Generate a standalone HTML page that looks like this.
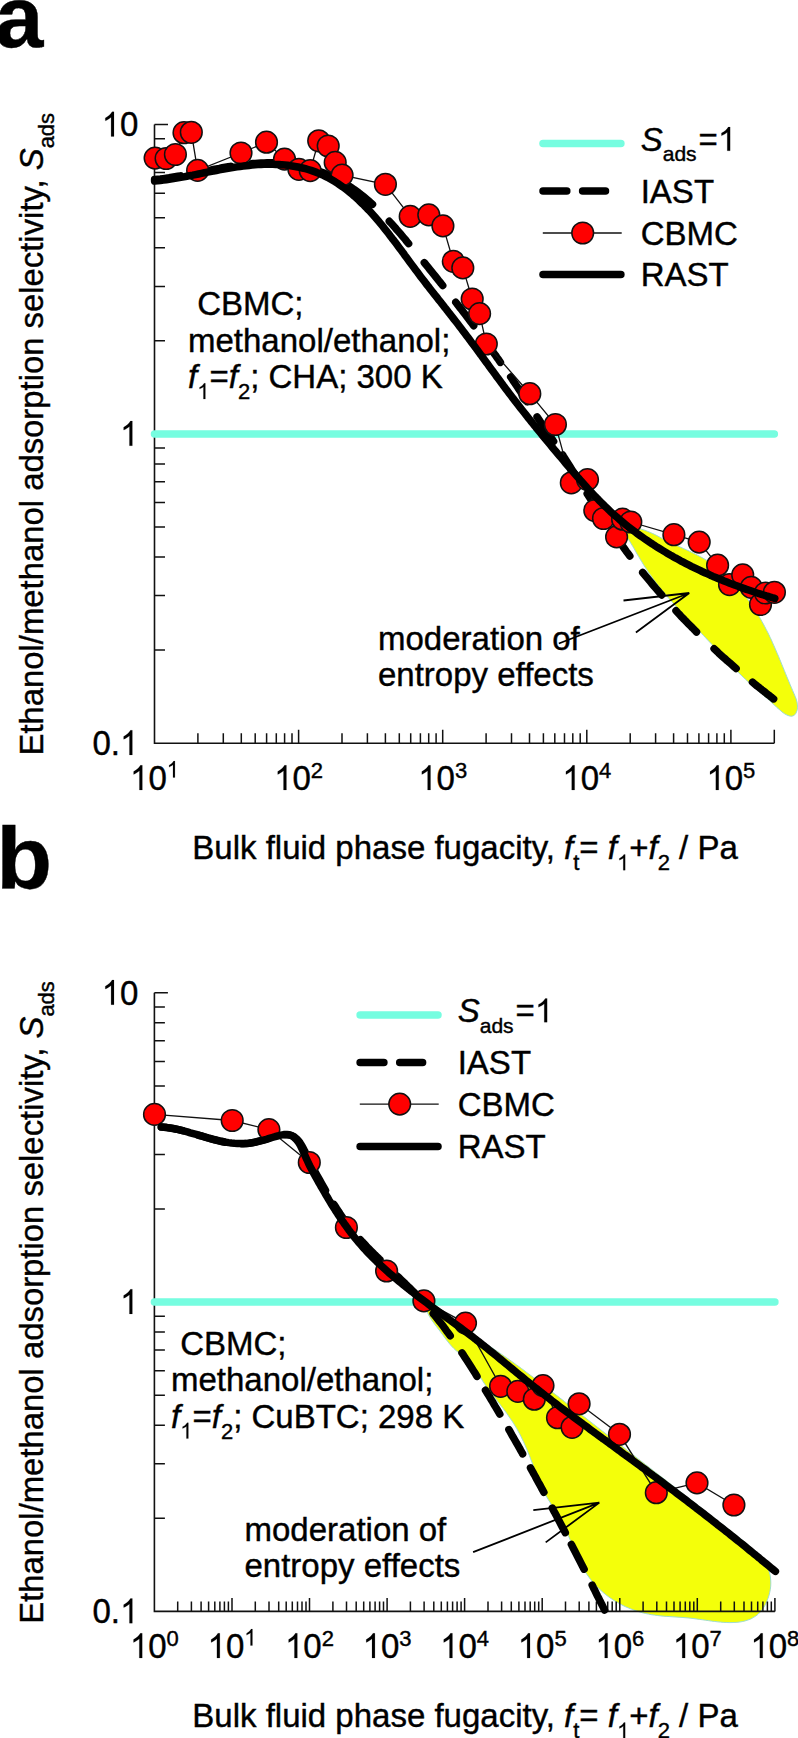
<!DOCTYPE html>
<html><head><meta charset="utf-8"><style>html,body{margin:0;padding:0;background:#fff;width:798px;height:1738px;overflow:hidden}svg{display:block}text{font-family:"Liberation Sans",sans-serif;fill:#000;stroke:#000;stroke-width:0.4px}.one{fill-opacity:0;stroke-opacity:0}</style></head><body>
<svg width="798" height="1738" viewBox="0 0 798 1738">
<rect width="798" height="1738" fill="#fff"/>
<text font-weight="bold" font-size="87" x="-5" y="47">a</text>
<text font-weight="bold" font-size="87" transform="translate(-3.8,888) scale(1.05,1)" x="0" y="0">b</text>
<text font-size="33" transform="translate(42.5,755.5) rotate(-90) scale(0.9955,1)" x="0" y="0">Ethanol/methanol adsorption selectivity, <tspan font-style="italic">S</tspan><tspan font-size="22" dy="11">ads</tspan></text>
<text font-size="33" transform="translate(42.5,1623.7) rotate(-90) scale(0.9955,1)" x="0" y="0">Ethanol/methanol adsorption selectivity, <tspan font-style="italic">S</tspan><tspan font-size="22" dy="11">ads</tspan></text>
<text font-size="33" x="192.3" y="859.2">Bulk fluid phase fugacity, <tspan font-style="italic">f</tspan><tspan font-size="22" dy="11">t</tspan><tspan dy="-11">= </tspan><tspan font-style="italic">f</tspan><tspan font-size="22" dy="11" class="one">1</tspan><tspan dy="-11">+</tspan><tspan font-style="italic">f</tspan><tspan font-size="22" dy="11">2</tspan><tspan dy="-11"> / Pa</tspan></text>
<text font-size="33" x="192.3" y="1727.4">Bulk fluid phase fugacity, <tspan font-style="italic">f</tspan><tspan font-size="22" dy="11">t</tspan><tspan dy="-11">= </tspan><tspan font-style="italic">f</tspan><tspan font-size="22" dy="11" class="one">1</tspan><tspan dy="-11">+</tspan><tspan font-style="italic">f</tspan><tspan font-size="22" dy="11">2</tspan><tspan dy="-11"> / Pa</tspan></text>
<path d="M622.1,528.3 L623.2,527.1 L625.6,526.6 L628.9,526.7 L632.7,527.2 L636.8,528.0 L640.6,529.0 L644.1,530.0 L647.2,531.2 L650.1,532.4 L652.8,533.6 L655.4,534.8 L657.8,536.1 L660.2,537.4 L662.6,538.7 L665.0,540.0 L667.5,541.2 L670.1,542.5 L672.8,543.7 L675.5,544.9 L678.2,546.2 L681.0,547.4 L683.8,548.7 L686.6,549.9 L689.4,551.2 L692.2,552.6 L695.0,553.9 L697.8,555.4 L700.5,556.8 L703.2,558.3 L705.9,559.9 L708.5,561.5 L711.0,563.2 L713.5,564.9 L716.0,566.7 L718.4,568.5 L720.7,570.4 L723.0,572.3 L725.3,574.3 L727.5,576.3 L729.7,578.3 L731.8,580.4 L733.9,582.6 L735.9,584.8 L737.9,587.0 L739.9,589.2 L741.8,591.5 L743.6,593.9 L745.5,596.2 L747.3,598.6 L749.0,601.0 L750.8,603.5 L752.5,606.0 L754.1,608.5 L755.7,611.0 L757.3,613.5 L758.9,616.1 L760.4,618.7 L761.8,621.3 L763.3,623.9 L764.7,626.6 L766.1,629.3 L767.5,631.9 L768.8,634.6 L770.1,637.3 L771.4,640.0 L772.6,642.8 L773.8,645.5 L775.0,648.2 L776.2,651.0 L777.4,653.8 L778.6,656.5 L779.7,659.3 L780.9,662.1 L782.0,664.9 L783.2,667.7 L784.3,670.5 L785.5,673.4 L786.6,676.2 L787.8,679.0 L789.0,681.9 L790.2,684.8 L791.4,687.6 L792.6,690.5 L793.9,693.4 L795.1,696.3 L796.2,699.1 L797.0,702.0 L797.4,704.9 L797.5,707.8 L797.0,710.7 L795.8,713.4 L794.1,715.4 L791.9,716.2 L789.5,716.0 L787.0,715.1 L784.5,713.7 L782.0,711.9 L779.5,709.7 L776.9,707.5 L774.5,705.1 L772.0,702.9 L769.7,700.7 L767.3,698.6 L765.0,696.6 L762.7,694.6 L760.5,692.7 L758.3,690.8 L756.1,688.9 L753.9,687.0 L751.8,685.1 L749.6,683.1 L747.5,681.2 L745.4,679.2 L743.2,677.2 L741.1,675.1 L739.0,673.1 L736.9,671.0 L734.8,668.8 L732.7,666.7 L730.6,664.5 L728.5,662.3 L726.4,660.1 L724.3,657.9 L722.3,655.7 L720.2,653.4 L718.1,651.2 L716.0,648.9 L713.9,646.7 L711.9,644.4 L709.8,642.2 L707.7,640.0 L705.6,637.7 L703.5,635.5 L701.4,633.3 L699.3,631.1 L697.3,628.9 L695.2,626.7 L693.1,624.5 L691.0,622.3 L688.9,620.1 L686.8,618.0 L684.8,615.8 L682.7,613.6 L680.7,611.4 L678.6,609.2 L676.6,607.0 L674.6,604.8 L672.6,602.6 L670.6,600.3 L668.6,598.1 L666.7,595.8 L664.7,593.5 L662.8,591.2 L660.9,588.9 L659.0,586.6 L657.2,584.2 L655.4,581.9 L653.6,579.5 L651.8,577.0 L650.1,574.6 L648.3,572.1 L646.7,569.5 L645.0,567.0 L643.4,564.4 L641.8,561.8 L640.2,559.2 L638.7,556.6 L637.1,554.0 L635.6,551.4 L634.2,548.8 L632.7,546.3 L631.2,543.8 L629.6,541.2 L627.8,538.6 L625.9,535.8 L623.9,532.9 L622.4,530.4 L622.1,528.3Z" fill="#f4ff0a" stroke="#9fdcd0" stroke-width="1"/>
<path d="M154.5,124.5 V743.2 H774.3" fill="none" stroke="#111" stroke-width="1.6"/>
<path d="M154.5,650.1h10.5M154.5,595.6h10.5M154.5,557.0h10.5M154.5,527.0h10.5M154.5,502.5h10.5M154.5,481.8h10.5M154.5,463.9h10.5M154.5,448.1h10.5M154.5,433.9h13.5M154.5,340.8h10.5M154.5,286.4h10.5M154.5,247.7h10.5M154.5,217.7h10.5M154.5,193.3h10.5M154.5,172.6h10.5M154.5,154.6h10.5M154.5,138.8h10.5M154.5,124.5h13.5M197.9,743.2v-10.0M223.3,743.2v-10.0M241.3,743.2v-10.0M255.2,743.2v-10.0M266.6,743.2v-10.0M276.3,743.2v-10.0M284.6,743.2v-10.0M292.0,743.2v-10.0M298.6,743.2v-13.5M342.0,743.2v-10.0M367.4,743.2v-10.0M385.4,743.2v-10.0M399.3,743.2v-10.0M410.7,743.2v-10.0M420.4,743.2v-10.0M428.7,743.2v-10.0M436.1,743.2v-10.0M442.7,743.2v-13.5M486.1,743.2v-10.0M511.5,743.2v-10.0M529.5,743.2v-10.0M543.4,743.2v-10.0M554.8,743.2v-10.0M564.5,743.2v-10.0M572.8,743.2v-10.0M580.2,743.2v-10.0M586.8,743.2v-13.5M630.2,743.2v-10.0M655.6,743.2v-10.0M673.6,743.2v-10.0M687.5,743.2v-10.0M698.9,743.2v-10.0M708.6,743.2v-10.0M716.9,743.2v-10.0M724.3,743.2v-10.0M730.9,743.2v-13.5M774.3,743.2v-10.0M774.3,743.2v-13.5" stroke="#111" stroke-width="1.5" fill="none"/>
<line x1="154.5" y1="433.9" x2="774.3" y2="433.9" stroke="#76fde0" stroke-width="7.5" stroke-linecap="round"/>
<path d="M154.6,179.6 L157.5,179.3 L160.4,179.0 L163.3,178.6 L166.2,178.2 L169.1,177.8 L172.0,177.3 L175.0,176.8 L177.9,176.3 L180.4,175.9M201.5,171.8 L201.5,171.8 L204.5,171.2 L207.4,170.6 L210.4,170.1 L213.4,169.5 L216.4,168.9 L219.3,168.4 L222.3,167.8 L225.3,167.3 L228.3,166.8 L230.5,166.4M251.8,163.7 L252.2,163.6 L255.2,163.4 L258.1,163.2 L261.1,163.0 L264.1,162.9 L267.1,162.8 L270.0,162.8 L273.0,162.8 L276.0,162.9 L278.9,163.0 L281.3,163.2M302.5,166.3 L305.3,167.0 L308.2,167.8 L311.1,168.6 L313.9,169.5 L316.8,170.4 L319.6,171.4 L322.4,172.5 L325.2,173.6 L327.9,174.8 L330.4,175.9M349.2,186.2 L351.5,187.7 L353.9,189.3 L356.4,191.1 L358.8,192.8 L361.1,194.7 L363.4,196.5 L365.7,198.4 L368.0,200.3 L370.2,202.3 L372.5,204.3M389.3,221.3 L391.4,223.5 L393.4,225.7 L395.4,228.0 L397.3,230.3 L399.3,232.5 L401.3,234.8 L403.2,237.1 L405.2,239.4 L407.1,241.8 L408.6,243.6M424.3,262.6 L426.1,264.9 L428.0,267.2 L429.9,269.6 L431.8,271.9 L433.6,274.2 L435.5,276.5 L437.4,278.9 L439.2,281.2 L441.1,283.5 L442.7,285.6M455.8,302.3 L457.6,304.6 L459.4,307.0 L461.3,309.3 L463.1,311.7 L464.9,314.1 L466.7,316.4 L468.5,318.8 L470.3,321.2 L472.1,323.6 L473.7,325.7M483.1,338.4 L484.6,340.4 L486.4,342.8 L488.2,345.2 L489.9,347.6 L491.7,350.1 L493.4,352.5 L495.2,354.9 L496.9,357.4 L498.7,359.8 L500.4,362.3M510.7,377.0 L512.4,379.5 L514.0,382.0 L515.7,384.5 L517.4,387.0 L519.0,389.4 L520.7,391.9 L522.3,394.4 L524.0,396.9 L525.6,399.4 L527.1,401.6M537.1,416.9 L538.8,419.4 L540.4,421.8 L542.1,424.3 L543.7,426.8 L545.4,429.3 L547.1,431.7 L548.7,434.2 L550.4,436.6 L552.1,439.1 L553.6,441.3M562.7,455.0 L563.6,456.5 L565.2,459.0 L566.8,461.5 L568.4,464.0 L570.0,466.5 L571.6,469.1 L573.1,471.6 L574.7,474.1 L576.3,476.6 L577.9,479.2 L578.4,480.0M587.2,493.8 L587.5,494.3 L589.1,496.8 L590.7,499.3 L592.3,501.9 L594.0,504.4 L595.6,506.9 L597.2,509.4 L598.9,511.9 L600.5,514.4 L602.2,516.9 L603.3,518.5M612.5,532.0 L614.0,534.2 L615.7,536.6 L617.5,539.1 L619.2,541.5 L620.9,543.9 L622.7,546.3 L624.5,548.8 L626.2,551.2 L628.0,553.6 L629.8,556.0M642.7,572.5 L644.6,574.8 L646.5,577.1 L648.4,579.4 L650.3,581.7 L652.2,584.0 L654.1,586.3 L656.1,588.6 L658.0,590.8 L660.0,593.1 L661.7,595.0M676.0,610.8 L678.0,613.0 L680.1,615.2 L682.1,617.4 L684.2,619.5 L686.3,621.7 L688.4,623.8 L690.5,625.9 L692.6,628.0 L694.7,630.2 L696.5,632.0M714.1,648.8 L716.3,650.8 L718.5,652.9 L720.7,654.9 L722.9,656.9 L725.2,658.9 L727.4,660.9 L729.7,662.8 L731.9,664.8 L734.2,666.8 L736.1,668.5M752.5,682.2 L754.8,684.1 L757.1,686.0 L759.5,687.8 L761.8,689.7 L764.2,691.5 L766.5,693.4 L768.9,695.2 L771.2,697.1 L773.6,698.9" fill="none" stroke="#000" stroke-width="7.5" stroke-linecap="round" stroke-linejoin="round"/>
<polyline points="155.1,158.1 166.1,158.5 175.4,154.5 184.0,132.7 191.3,132.3 197.6,170.4 241.0,153.0 266.5,142.2 284.5,159.1 298.9,169.3 310.2,170.6 318.7,140.8 328.2,146.0 335.2,162.4 342.1,175.1 385.4,184.3 410.2,216.4 428.8,214.9 442.9,225.9 453.3,261.3 462.8,267.9 472.2,299.0 479.6,313.6 486.3,344.0 529.8,393.7 555.4,424.5 571.3,482.8 587.5,479.6 594.8,510.5 603.5,518.5 616.6,536.9 622.6,519.2 630.8,522.0 673.9,534.7 699.2,542.1 717.6,565.2 729.5,584.6 742.7,574.9 751.3,587.4 760.5,604.5 765.4,593.0 774.4,592.3" fill="none" stroke="#111" stroke-width="1.3"/>
<circle cx="155.10" cy="158.10" r="10.85" fill="#ff0000" stroke="#111" stroke-width="1.5"/>
<circle cx="166.10" cy="158.50" r="10.85" fill="#ff0000" stroke="#111" stroke-width="1.5"/>
<circle cx="175.40" cy="154.50" r="10.85" fill="#ff0000" stroke="#111" stroke-width="1.5"/>
<circle cx="184.00" cy="132.70" r="10.85" fill="#ff0000" stroke="#111" stroke-width="1.5"/>
<circle cx="191.30" cy="132.30" r="10.85" fill="#ff0000" stroke="#111" stroke-width="1.5"/>
<circle cx="197.60" cy="170.40" r="10.85" fill="#ff0000" stroke="#111" stroke-width="1.5"/>
<circle cx="241.00" cy="153.00" r="10.85" fill="#ff0000" stroke="#111" stroke-width="1.5"/>
<circle cx="266.50" cy="142.20" r="10.85" fill="#ff0000" stroke="#111" stroke-width="1.5"/>
<circle cx="284.50" cy="159.10" r="10.85" fill="#ff0000" stroke="#111" stroke-width="1.5"/>
<circle cx="298.90" cy="169.30" r="10.85" fill="#ff0000" stroke="#111" stroke-width="1.5"/>
<circle cx="310.20" cy="170.60" r="10.85" fill="#ff0000" stroke="#111" stroke-width="1.5"/>
<circle cx="318.70" cy="140.80" r="10.85" fill="#ff0000" stroke="#111" stroke-width="1.5"/>
<circle cx="328.20" cy="146.00" r="10.85" fill="#ff0000" stroke="#111" stroke-width="1.5"/>
<circle cx="335.20" cy="162.40" r="10.85" fill="#ff0000" stroke="#111" stroke-width="1.5"/>
<circle cx="342.10" cy="175.10" r="10.85" fill="#ff0000" stroke="#111" stroke-width="1.5"/>
<circle cx="385.40" cy="184.30" r="10.85" fill="#ff0000" stroke="#111" stroke-width="1.5"/>
<circle cx="410.20" cy="216.40" r="10.85" fill="#ff0000" stroke="#111" stroke-width="1.5"/>
<circle cx="428.80" cy="214.90" r="10.85" fill="#ff0000" stroke="#111" stroke-width="1.5"/>
<circle cx="442.90" cy="225.90" r="10.85" fill="#ff0000" stroke="#111" stroke-width="1.5"/>
<circle cx="453.30" cy="261.30" r="10.85" fill="#ff0000" stroke="#111" stroke-width="1.5"/>
<circle cx="462.80" cy="267.90" r="10.85" fill="#ff0000" stroke="#111" stroke-width="1.5"/>
<circle cx="472.20" cy="299.00" r="10.85" fill="#ff0000" stroke="#111" stroke-width="1.5"/>
<circle cx="479.60" cy="313.60" r="10.85" fill="#ff0000" stroke="#111" stroke-width="1.5"/>
<circle cx="486.30" cy="344.00" r="10.85" fill="#ff0000" stroke="#111" stroke-width="1.5"/>
<circle cx="529.80" cy="393.70" r="10.85" fill="#ff0000" stroke="#111" stroke-width="1.5"/>
<circle cx="555.40" cy="424.50" r="10.85" fill="#ff0000" stroke="#111" stroke-width="1.5"/>
<circle cx="571.30" cy="482.80" r="10.85" fill="#ff0000" stroke="#111" stroke-width="1.5"/>
<circle cx="587.50" cy="479.60" r="10.85" fill="#ff0000" stroke="#111" stroke-width="1.5"/>
<circle cx="594.80" cy="510.50" r="10.85" fill="#ff0000" stroke="#111" stroke-width="1.5"/>
<circle cx="603.50" cy="518.50" r="10.85" fill="#ff0000" stroke="#111" stroke-width="1.5"/>
<circle cx="616.60" cy="536.90" r="10.85" fill="#ff0000" stroke="#111" stroke-width="1.5"/>
<circle cx="622.60" cy="519.20" r="10.85" fill="#ff0000" stroke="#111" stroke-width="1.5"/>
<circle cx="630.80" cy="522.00" r="10.85" fill="#ff0000" stroke="#111" stroke-width="1.5"/>
<circle cx="673.90" cy="534.70" r="10.85" fill="#ff0000" stroke="#111" stroke-width="1.5"/>
<circle cx="699.20" cy="542.10" r="10.85" fill="#ff0000" stroke="#111" stroke-width="1.5"/>
<circle cx="717.60" cy="565.20" r="10.85" fill="#ff0000" stroke="#111" stroke-width="1.5"/>
<circle cx="729.50" cy="584.60" r="10.85" fill="#ff0000" stroke="#111" stroke-width="1.5"/>
<circle cx="742.70" cy="574.90" r="10.85" fill="#ff0000" stroke="#111" stroke-width="1.5"/>
<circle cx="751.30" cy="587.40" r="10.85" fill="#ff0000" stroke="#111" stroke-width="1.5"/>
<circle cx="760.50" cy="604.50" r="10.85" fill="#ff0000" stroke="#111" stroke-width="1.5"/>
<circle cx="765.40" cy="593.00" r="10.85" fill="#ff0000" stroke="#111" stroke-width="1.5"/>
<circle cx="774.40" cy="592.30" r="10.85" fill="#ff0000" stroke="#111" stroke-width="1.5"/>
<path d="M154.6,181.1 L157.5,180.8 L160.4,180.5 L163.3,180.1 L166.3,179.7 L169.2,179.3 L172.1,178.9 L175.0,178.4 L178.0,177.9 L180.9,177.4 L183.8,176.9 L186.8,176.3 L189.7,175.7 L192.7,175.2 L195.6,174.6 L198.6,174.0 L201.5,173.4 L204.5,172.8 L207.4,172.2 L210.4,171.6 L213.3,171.1 L216.3,170.5 L219.3,169.9 L222.2,169.4 L225.2,168.8 L228.2,168.3 L231.1,167.8 L234.1,167.3 L237.1,166.9 L240.1,166.5 L243.0,166.1 L246.0,165.7 L249.0,165.4 L252.0,165.1 L254.9,164.8 L257.9,164.6 L260.9,164.5 L263.9,164.3 L266.8,164.3 L269.8,164.2 L272.8,164.3 L275.8,164.4 L278.8,164.5 L281.7,164.7 L284.7,165.0 L287.7,165.3 L290.6,165.7 L293.6,166.2 L296.5,166.7 L299.5,167.3 L302.4,168.0 L305.3,168.7 L308.1,169.5 L311.0,170.4 L313.8,171.4 L316.6,172.4 L319.4,173.5 L322.1,174.7 L324.8,176.0 L327.4,177.3 L330.0,178.8 L332.6,180.3 L335.2,181.8 L337.7,183.4 L340.1,185.1 L342.6,186.8 L345.0,188.6 L347.3,190.4 L349.7,192.3 L352.0,194.2 L354.2,196.1 L356.4,198.1 L358.6,200.1 L360.8,202.2 L362.9,204.2 L365.0,206.3 L367.1,208.5 L369.2,210.6 L371.2,212.8 L373.2,215.0 L375.2,217.3 L377.1,219.5 L379.1,221.8 L381.0,224.1 L382.9,226.4 L384.7,228.8 L386.6,231.1 L388.5,233.5 L390.3,235.9 L392.1,238.3 L394.0,240.7 L395.8,243.1 L397.6,245.5 L399.4,247.9 L401.2,250.3 L403.0,252.7 L404.7,255.2 L406.5,257.6 L408.3,260.0 L410.1,262.4 L411.9,264.9 L413.7,267.3 L415.5,269.7 L417.3,272.1 L419.1,274.5 L420.9,276.9 L422.7,279.2 L424.5,281.6 L426.3,284.0 L428.2,286.3 L430.0,288.7 L431.8,291.0 L433.7,293.4 L435.5,295.7 L437.4,298.0 L439.2,300.4 L441.1,302.7 L442.9,305.1 L444.7,307.4 L446.6,309.7 L448.4,312.1 L450.3,314.4 L452.1,316.8 L453.9,319.1 L455.8,321.5 L457.6,323.8 L459.4,326.2 L461.2,328.5 L463.0,330.9 L464.8,333.3 L466.6,335.7 L468.4,338.1 L470.2,340.5 L472.0,342.9 L473.8,345.3 L475.6,347.7 L477.3,350.1 L479.1,352.5 L480.9,354.9 L482.6,357.3 L484.4,359.7 L486.2,362.2 L488.0,364.6 L489.7,367.0 L491.5,369.4 L493.3,371.8 L495.0,374.2 L496.8,376.7 L498.6,379.1 L500.4,381.5 L502.2,383.9 L503.9,386.3 L505.7,388.7 L507.5,391.1 L509.3,393.5 L511.1,395.8 L512.9,398.2 L514.8,400.6 L516.6,402.9 L518.4,405.3 L520.2,407.6 L522.1,410.0 L523.9,412.3 L525.8,414.7 L527.6,417.0 L529.5,419.3 L531.3,421.6 L533.2,424.0 L535.1,426.3 L536.9,428.6 L538.8,430.9 L540.7,433.2 L542.6,435.5 L544.5,437.8 L546.4,440.1 L548.3,442.4 L550.2,444.7 L552.1,447.0 L554.0,449.3 L555.9,451.5 L557.8,453.8 L559.7,456.1 L561.7,458.4 L563.6,460.7 L565.5,463.0 L567.4,465.2 L569.4,467.5 L571.3,469.8 L573.3,472.1 L575.2,474.3 L577.2,476.6 L579.2,478.8 L581.1,481.1 L583.1,483.3 L585.1,485.5 L587.1,487.8 L589.2,490.0 L591.2,492.2 L593.2,494.3 L595.3,496.5 L597.4,498.6 L599.4,500.8 L601.6,502.9 L603.7,505.0 L605.8,507.1 L608.0,509.1 L610.1,511.2 L612.3,513.2 L614.5,515.2 L616.8,517.1 L619.0,519.1 L621.3,521.0 L623.6,522.9 L625.9,524.8 L628.2,526.7 L630.5,528.5 L632.9,530.3 L635.3,532.1 L637.7,533.9 L640.1,535.6 L642.5,537.3 L644.9,539.0 L647.4,540.7 L649.9,542.4 L652.4,544.0 L654.9,545.7 L657.4,547.3 L659.9,548.8 L662.5,550.4 L665.0,551.9 L667.6,553.5 L670.2,555.0 L672.8,556.4 L675.4,557.9 L678.0,559.3 L680.6,560.8 L683.3,562.2 L686.0,563.6 L688.6,564.9 L691.3,566.3 L694.0,567.6 L696.7,568.9 L699.4,570.2 L702.1,571.5 L704.8,572.7 L707.6,573.9 L710.3,575.2 L713.0,576.4 L715.8,577.5 L718.6,578.7 L721.3,579.8 L724.1,581.0 L726.9,582.1 L729.7,583.2 L732.5,584.2 L735.3,585.3 L738.1,586.3 L740.9,587.4 L743.7,588.4 L746.5,589.4 L749.3,590.3 L752.2,591.3 L755.0,592.3 L757.8,593.2 L760.7,594.1 L763.5,595.0 L766.3,595.9 L769.2,596.7 L772.0,597.6 L774.8,598.4" fill="none" stroke="#000" stroke-width="7.5" stroke-linecap="round" stroke-linejoin="round"/>
<text font-size="33" text-anchor="middle" transform="translate(0,790.00) scale(1,1.04) translate(0,-790.00)" x="154.5" y="790.0"><tspan class="one">1</tspan>0<tspan font-size="22" dy="-12" class="one">1</tspan></text>
<text font-size="33" text-anchor="middle" transform="translate(0,790.00) scale(1,1.04) translate(0,-790.00)" x="298.6" y="790.0"><tspan class="one">1</tspan>0<tspan font-size="22" dy="-12">2</tspan></text>
<text font-size="33" text-anchor="middle" transform="translate(0,790.00) scale(1,1.04) translate(0,-790.00)" x="442.7" y="790.0"><tspan class="one">1</tspan>0<tspan font-size="22" dy="-12">3</tspan></text>
<text font-size="33" text-anchor="middle" transform="translate(0,790.00) scale(1,1.04) translate(0,-790.00)" x="586.8" y="790.0"><tspan class="one">1</tspan>0<tspan font-size="22" dy="-12">4</tspan></text>
<text font-size="33" text-anchor="middle" transform="translate(0,790.00) scale(1,1.04) translate(0,-790.00)" x="730.9" y="790.0"><tspan class="one">1</tspan>0<tspan font-size="22" dy="-12">5</tspan></text>
<text font-size="33" text-anchor="end" transform="translate(0,136.45) scale(1,1.04) translate(0,-136.45)" x="138.4" y="136.45"><tspan class="one">1</tspan>0</text>
<text font-size="33" text-anchor="end" transform="translate(0,445.70) scale(1,1.04) translate(0,-445.70)" x="138.4" y="445.70"><tspan class="one">1</tspan></text>
<text font-size="33" text-anchor="end" transform="translate(0,754.95) scale(1,1.04) translate(0,-754.95)" x="138.4" y="754.95">0.<tspan class="one">1</tspan></text>
<line x1="543.0" y1="143.6" x2="620.9" y2="143.6" stroke="#76fde0" stroke-width="7.5" stroke-linecap="round"/>
<path d="M543.0,191.1 H566.8 M582.6,191.1 H605.5" stroke="#000" stroke-width="7.5" stroke-linecap="round"/>
<line x1="542.8" y1="233.0" x2="621.7" y2="233.0" stroke="#111" stroke-width="1.3"/>
<circle cx="582.7" cy="233.0" r="10.85" fill="#ff0000" stroke="#111" stroke-width="1.5"/>
<line x1="543.0" y1="274.6" x2="620.9" y2="274.6" stroke="#000" stroke-width="7.5" stroke-linecap="round"/>
<text font-size="33" x="640.7" y="150.8"><tspan font-style="italic">S</tspan><tspan font-size="21" dy="10.3">ads</tspan><tspan dy="-10.3" dx="2">=<tspan class="one">1</tspan></tspan></text>
<text font-size="33" x="640.7" y="202.6">IAST</text>
<text font-size="33" x="640.7" y="244.5">CBMC</text>
<text font-size="33" x="640.7" y="286.1">RAST</text>
<text font-size="33" x="188.0" y="315.1" xml:space="preserve"> CBMC;</text>
<text font-size="33" x="188.0" y="351.9">methanol/ethanol;</text>
<text font-size="33" x="188.0" y="388.1"><tspan font-style="italic">f</tspan><tspan font-size="22" dy="11" class="one">1</tspan><tspan dy="-11">=</tspan><tspan font-style="italic">f</tspan><tspan font-size="22" dy="11">2</tspan><tspan dy="-11">; CHA; 300 K</tspan></text>
<text font-size="33" x="378.0" y="650.3">moderation of</text>
<text font-size="33" x="378.0" y="686.3">entropy effects</text>
<path d="M689.3,593.0L558.8,643.5M689.3,593.0L623.5,600.5M689.3,593.0L635.9,632.5" stroke="#000" stroke-width="1.8" fill="none"/>
<path d="M426.7,1307.4 L427.8,1306.8 L429.7,1307.0 L432.1,1307.9 L435.0,1309.3 L438.1,1311.1 L441.3,1313.0 L444.5,1315.1 L447.5,1317.1 L450.3,1319.1 L453.0,1321.0 L455.6,1322.8 L458.0,1324.7 L460.4,1326.4 L462.7,1328.2 L464.9,1329.9 L467.2,1331.5 L469.6,1333.2 L471.9,1334.8 L474.4,1336.4 L476.8,1338.0 L479.3,1339.6 L481.8,1341.2 L484.4,1342.8 L486.9,1344.4 L489.4,1346.0 L491.9,1347.7 L494.4,1349.4 L496.9,1351.0 L499.4,1352.7 L501.9,1354.5 L504.3,1356.2 L506.8,1357.9 L509.3,1359.7 L511.7,1361.4 L514.2,1363.2 L516.6,1365.0 L519.1,1366.7 L521.5,1368.5 L523.9,1370.3 L526.3,1372.2 L528.8,1374.0 L531.2,1375.8 L533.6,1377.6 L536.0,1379.5 L538.4,1381.3 L540.8,1383.2 L543.2,1385.0 L545.6,1386.9 L548.0,1388.7 L550.4,1390.6 L552.7,1392.4 L555.1,1394.3 L557.5,1396.1 L559.9,1398.0 L562.3,1399.8 L564.7,1401.7 L567.0,1403.6 L569.4,1405.4 L571.8,1407.3 L574.2,1409.1 L576.6,1411.0 L578.9,1412.8 L581.3,1414.7 L583.7,1416.5 L586.1,1418.3 L588.4,1420.2 L590.8,1422.0 L593.2,1423.9 L595.6,1425.7 L597.9,1427.6 L600.3,1429.4 L602.7,1431.3 L605.0,1433.1 L607.4,1434.9 L609.8,1436.8 L612.2,1438.6 L614.5,1440.5 L616.9,1442.3 L619.3,1444.1 L621.6,1446.0 L624.0,1447.8 L626.4,1449.7 L628.7,1451.5 L631.1,1453.3 L633.5,1455.2 L635.8,1457.0 L638.2,1458.9 L640.6,1460.7 L643.0,1462.6 L645.3,1464.4 L647.7,1466.2 L650.1,1468.1 L652.4,1469.9 L654.8,1471.8 L657.2,1473.6 L659.6,1475.5 L661.9,1477.3 L664.3,1479.1 L666.7,1481.0 L669.0,1482.8 L671.4,1484.7 L673.8,1486.5 L676.2,1488.4 L678.5,1490.2 L680.9,1492.1 L683.3,1493.9 L685.7,1495.8 L688.1,1497.7 L690.4,1499.5 L692.8,1501.4 L695.2,1503.2 L697.6,1505.1 L700.0,1507.0 L702.4,1508.8 L704.8,1510.7 L707.1,1512.5 L709.5,1514.4 L711.9,1516.3 L714.3,1518.2 L716.7,1520.0 L719.1,1521.9 L721.5,1523.8 L723.9,1525.7 L726.3,1527.5 L728.7,1529.4 L731.1,1531.3 L733.5,1533.2 L735.9,1535.1 L738.3,1537.0 L740.7,1538.9 L743.1,1540.7 L745.5,1542.7 L747.9,1544.6 L750.2,1546.5 L752.5,1548.5 L754.7,1550.5 L756.8,1552.6 L758.8,1554.7 L760.7,1556.8 L762.5,1559.1 L764.2,1561.4 L765.7,1563.7 L767.0,1566.2 L768.2,1568.8 L769.1,1571.4 L769.9,1574.2 L770.4,1577.0 L770.7,1580.0 L770.8,1583.1 L770.7,1586.2 L770.3,1589.4 L769.7,1592.5 L768.9,1595.7 L767.9,1598.7 L766.7,1601.7 L765.4,1604.6 L763.8,1607.3 L762.0,1609.8 L760.1,1612.2 L758.0,1614.3 L755.7,1616.1 L753.2,1617.6 L750.7,1619.0 L747.9,1620.0 L745.1,1620.9 L742.2,1621.6 L739.2,1622.1 L736.2,1622.4 L733.1,1622.5 L729.9,1622.6 L726.8,1622.5 L723.7,1622.4 L720.5,1622.1 L717.4,1621.8 L714.4,1621.4 L711.4,1621.1 L708.4,1620.6 L705.5,1620.2 L702.6,1619.8 L699.7,1619.4 L696.8,1619.0 L693.9,1618.6 L690.9,1618.2 L688.0,1617.9 L685.0,1617.7 L682.0,1617.4 L679.0,1617.2 L676.0,1617.0 L672.9,1616.8 L669.9,1616.6 L666.8,1616.4 L663.8,1616.2 L660.7,1615.9 L657.7,1615.5 L654.7,1615.1 L651.6,1614.7 L648.6,1614.1 L645.7,1613.5 L642.7,1612.8 L639.8,1612.0 L636.9,1611.1 L634.1,1610.2 L631.3,1609.1 L628.5,1608.0 L625.7,1606.8 L623.0,1605.5 L620.4,1604.1 L617.8,1602.7 L615.2,1601.2 L612.7,1599.6 L610.2,1597.9 L607.8,1596.2 L605.5,1594.4 L603.2,1592.5 L601.0,1590.5 L598.8,1588.5 L596.7,1586.4 L594.7,1584.3 L592.7,1582.0 L590.9,1579.7 L589.1,1577.4 L587.3,1574.9 L585.7,1572.4 L584.1,1569.9 L582.6,1567.2 L581.2,1564.6 L579.8,1561.9 L578.5,1559.1 L577.2,1556.3 L576.0,1553.5 L574.7,1550.7 L573.5,1547.8 L572.3,1545.0 L571.1,1542.1 L569.9,1539.3 L568.7,1536.4 L567.5,1533.6 L566.3,1530.8 L565.0,1528.0 L563.7,1525.3 L562.3,1522.6 L560.9,1519.9 L559.4,1517.3 L557.8,1514.7 L556.3,1512.2 L554.7,1509.7 L553.1,1507.2 L551.4,1504.7 L549.9,1502.1 L548.3,1499.6 L546.8,1497.1 L545.3,1494.5 L543.9,1491.8 L542.6,1489.2 L541.4,1486.5 L540.2,1483.7 L539.0,1480.9 L537.9,1478.1 L536.8,1475.3 L535.7,1472.5 L534.7,1469.6 L533.6,1466.8 L532.6,1464.0 L531.5,1461.1 L530.4,1458.3 L529.4,1455.5 L528.2,1452.7 L527.1,1449.9 L525.9,1447.2 L524.7,1444.4 L523.5,1441.7 L522.2,1439.0 L520.9,1436.3 L519.5,1433.7 L518.1,1431.1 L516.7,1428.5 L515.1,1425.9 L513.6,1423.4 L511.9,1420.8 L510.2,1418.4 L508.5,1415.9 L506.8,1413.4 L505.0,1411.0 L503.2,1408.6 L501.3,1406.2 L499.5,1403.8 L497.6,1401.4 L495.8,1399.0 L493.9,1396.5 L492.1,1394.1 L490.2,1391.7 L488.4,1389.2 L486.7,1386.8 L484.9,1384.3 L483.2,1381.8 L481.6,1379.3 L480.0,1376.7 L478.4,1374.2 L476.8,1371.6 L475.1,1369.1 L473.4,1366.7 L471.6,1364.3 L469.6,1362.1 L467.5,1360.0 L465.3,1357.9 L462.9,1356.0 L460.6,1354.2 L458.2,1352.3 L455.9,1350.4 L453.8,1348.4 L451.8,1346.4 L449.9,1344.2 L448.1,1342.0 L446.3,1339.7 L444.5,1337.2 L442.7,1334.7 L440.7,1332.1 L438.7,1329.5 L436.6,1326.7 L434.5,1323.9 L432.5,1321.2 L430.7,1318.5 L429.1,1315.8 L427.8,1313.3 L426.8,1310.8 L426.4,1308.8 L426.7,1307.4Z" fill="#f4ff0a" stroke="#9fdcd0" stroke-width="1"/>
<path d="M154.4,992.8 V1611.4 H774.9" fill="none" stroke="#111" stroke-width="1.6"/>
<path d="M154.4,1518.3h10.5M154.4,1463.8h10.5M154.4,1425.2h10.5M154.4,1395.2h10.5M154.4,1370.7h10.5M154.4,1350.0h10.5M154.4,1332.1h10.5M154.4,1316.3h10.5M154.4,1302.1h13.5M154.4,1209.0h10.5M154.4,1154.6h10.5M154.4,1115.9h10.5M154.4,1085.9h10.5M154.4,1061.5h10.5M154.4,1040.8h10.5M154.4,1022.8h10.5M154.4,1007.0h10.5M154.4,992.8h13.5M177.7,1611.4v-10.0M191.4,1611.4v-10.0M201.1,1611.4v-10.0M208.6,1611.4v-10.0M214.8,1611.4v-10.0M219.9,1611.4v-10.0M224.4,1611.4v-10.0M228.4,1611.4v-10.0M232.0,1611.4v-13.5M255.3,1611.4v-10.0M269.0,1611.4v-10.0M278.7,1611.4v-10.0M286.2,1611.4v-10.0M292.3,1611.4v-10.0M297.5,1611.4v-10.0M302.0,1611.4v-10.0M306.0,1611.4v-10.0M309.5,1611.4v-13.5M332.9,1611.4v-10.0M346.5,1611.4v-10.0M356.2,1611.4v-10.0M363.7,1611.4v-10.0M369.9,1611.4v-10.0M375.1,1611.4v-10.0M379.6,1611.4v-10.0M383.5,1611.4v-10.0M387.1,1611.4v-13.5M410.4,1611.4v-10.0M424.1,1611.4v-10.0M433.8,1611.4v-10.0M441.3,1611.4v-10.0M447.4,1611.4v-10.0M452.6,1611.4v-10.0M457.1,1611.4v-10.0M461.1,1611.4v-10.0M464.6,1611.4v-13.5M488.0,1611.4v-10.0M501.6,1611.4v-10.0M511.3,1611.4v-10.0M518.9,1611.4v-10.0M525.0,1611.4v-10.0M530.2,1611.4v-10.0M534.7,1611.4v-10.0M538.7,1611.4v-10.0M542.2,1611.4v-13.5M565.5,1611.4v-10.0M579.2,1611.4v-10.0M588.9,1611.4v-10.0M596.4,1611.4v-10.0M602.6,1611.4v-10.0M607.7,1611.4v-10.0M612.2,1611.4v-10.0M616.2,1611.4v-10.0M619.8,1611.4v-13.5M643.1,1611.4v-10.0M656.8,1611.4v-10.0M666.5,1611.4v-10.0M674.0,1611.4v-10.0M680.1,1611.4v-10.0M685.3,1611.4v-10.0M689.8,1611.4v-10.0M693.8,1611.4v-10.0M697.3,1611.4v-13.5M720.7,1611.4v-10.0M734.3,1611.4v-10.0M744.0,1611.4v-10.0M751.5,1611.4v-10.0M757.7,1611.4v-10.0M762.9,1611.4v-10.0M767.4,1611.4v-10.0M771.3,1611.4v-10.0M774.9,1611.4v-13.5M774.9,1611.4v-13.5" stroke="#111" stroke-width="1.5" fill="none"/>
<line x1="154.4" y1="1302.1" x2="774.9" y2="1302.1" stroke="#76fde0" stroke-width="7.5" stroke-linecap="round"/>
<path d="M161.3,1127.1 L164.1,1127.3 L167.0,1127.6 L169.9,1128.0 L172.8,1128.4 L175.7,1129.0 L178.7,1129.6 L181.6,1130.3 L182.9,1130.6M198.7,1135.2 L199.1,1135.3 L202.1,1136.2 L205.0,1137.1 L208.0,1138.0 L210.9,1138.8 L213.9,1139.6 L216.8,1140.4 L219.7,1141.1 L222.7,1141.7 L225.5,1142.3M241.8,1143.8 L243.2,1143.7 L246.1,1143.6 L249.1,1143.2 L252.0,1142.8 L254.9,1142.2 L257.8,1141.4 L260.7,1140.6 L263.6,1139.8 L266.5,1138.9 L268.9,1138.2M284.9,1134.7 L286.8,1134.7 L289.5,1135.0 L292.0,1135.7 L294.3,1136.9 L296.4,1138.6 L298.3,1140.6 L300.1,1142.9 L301.7,1145.4 L303.2,1148.2 L304.7,1151.1 L304.8,1151.3M311.9,1166.1 L312.9,1167.9 L314.3,1170.5 L315.7,1173.1 L317.1,1175.6 L318.6,1178.2 L320.0,1180.7 L321.5,1183.3 L322.9,1185.8 L324.4,1188.4 L325.5,1190.3M334.0,1204.4 L335.2,1206.3 L336.8,1208.8 L338.5,1211.3 L340.1,1213.8 L341.8,1216.3 L343.5,1218.8 L345.3,1221.2 L347.1,1223.6 L348.9,1226.0 L349.8,1227.2M360.4,1239.7 L362.4,1241.9 L364.5,1244.1 L366.5,1246.3 L368.6,1248.5 L370.7,1250.6 L372.8,1252.7 L374.9,1254.8 L377.1,1256.9 L379.2,1259.0 L379.9,1259.6M397.4,1276.2 L398.9,1277.6 L401.0,1279.6 L403.2,1281.7 L405.4,1283.8 L407.5,1285.9 L409.7,1288.0 L411.8,1290.1 L413.9,1292.2 L416.0,1294.4 L417.2,1295.6M433.2,1313.7 L433.8,1314.4 L435.7,1316.7 L437.6,1319.0 L439.4,1321.4 L441.3,1323.7 L443.1,1326.1 L444.9,1328.5 L446.6,1330.9 L448.4,1333.3 L450.2,1335.7M462.0,1352.9 L463.7,1355.4 L465.3,1357.9 L467.0,1360.5 L468.6,1363.0 L470.2,1365.5 L471.8,1368.0 L473.4,1370.6 L475.0,1373.1 L476.6,1375.7 L477.0,1376.4M485.5,1390.3 L486.0,1391.0 L487.5,1393.5 L489.1,1396.1 L490.6,1398.7 L492.2,1401.2 L493.7,1403.8 L495.2,1406.4 L496.8,1409.0 L498.3,1411.5 L499.8,1414.1M508.9,1429.6 L510.4,1432.2 L511.8,1434.8 L513.3,1437.4 L514.8,1440.0 L516.3,1442.6 L517.8,1445.2 L519.3,1447.8 L520.7,1450.4 L522.2,1453.0 L522.6,1453.8M530.5,1467.9 L530.9,1468.7 L532.4,1471.3 L533.8,1473.9 L535.3,1476.5 L536.7,1479.2 L538.1,1481.8 L539.6,1484.4 L541.0,1487.0 L542.4,1489.7 L543.9,1492.3M552.3,1508.1 L553.7,1510.8 L555.2,1513.4 L556.6,1516.1 L557.9,1518.7 L559.3,1521.3 L560.7,1524.0 L562.1,1526.6 L563.5,1529.3 L564.9,1531.9 L565.3,1532.7M571.4,1544.5 L571.8,1545.2 L573.2,1547.9 L574.5,1550.5 L575.9,1553.2 L577.3,1555.9 L578.6,1558.5 L580.0,1561.2 L581.4,1563.9 L582.7,1566.5 L584.1,1569.2M592.2,1585.2 L593.5,1587.9 L594.9,1590.6 L596.2,1593.3 L597.5,1596.0 L598.9,1598.6 L600.2,1601.3 L601.6,1604.0 L602.9,1606.7 L604.2,1609.4 L604.6,1610.1" fill="none" stroke="#000" stroke-width="7.5" stroke-linecap="round" stroke-linejoin="round"/>
<polyline points="154.5,1114.4 232.2,1120.5 268.9,1129.6 309.3,1162.5 346.4,1227.5 386.6,1271.0 423.9,1300.9 465.5,1323.1 500.6,1386.3 517.8,1391.4 534.3,1399.2 543.0,1385.6 557.5,1417.7 572.1,1427.3 579.1,1403.8 619.5,1434.3 656.3,1492.7 697.0,1482.9 733.9,1505.0" fill="none" stroke="#111" stroke-width="1.3"/>
<circle cx="154.50" cy="1114.40" r="10.85" fill="#ff0000" stroke="#111" stroke-width="1.5"/>
<circle cx="232.20" cy="1120.50" r="10.85" fill="#ff0000" stroke="#111" stroke-width="1.5"/>
<circle cx="268.90" cy="1129.60" r="10.85" fill="#ff0000" stroke="#111" stroke-width="1.5"/>
<circle cx="309.30" cy="1162.50" r="10.85" fill="#ff0000" stroke="#111" stroke-width="1.5"/>
<circle cx="346.40" cy="1227.50" r="10.85" fill="#ff0000" stroke="#111" stroke-width="1.5"/>
<circle cx="386.60" cy="1271.00" r="10.85" fill="#ff0000" stroke="#111" stroke-width="1.5"/>
<circle cx="423.90" cy="1300.90" r="10.85" fill="#ff0000" stroke="#111" stroke-width="1.5"/>
<circle cx="465.50" cy="1323.10" r="10.85" fill="#ff0000" stroke="#111" stroke-width="1.5"/>
<circle cx="500.60" cy="1386.30" r="10.85" fill="#ff0000" stroke="#111" stroke-width="1.5"/>
<circle cx="517.80" cy="1391.40" r="10.85" fill="#ff0000" stroke="#111" stroke-width="1.5"/>
<circle cx="534.30" cy="1399.20" r="10.85" fill="#ff0000" stroke="#111" stroke-width="1.5"/>
<circle cx="543.00" cy="1385.60" r="10.85" fill="#ff0000" stroke="#111" stroke-width="1.5"/>
<circle cx="557.50" cy="1417.70" r="10.85" fill="#ff0000" stroke="#111" stroke-width="1.5"/>
<circle cx="572.10" cy="1427.30" r="10.85" fill="#ff0000" stroke="#111" stroke-width="1.5"/>
<circle cx="579.10" cy="1403.80" r="10.85" fill="#ff0000" stroke="#111" stroke-width="1.5"/>
<circle cx="619.50" cy="1434.30" r="10.85" fill="#ff0000" stroke="#111" stroke-width="1.5"/>
<circle cx="656.30" cy="1492.70" r="10.85" fill="#ff0000" stroke="#111" stroke-width="1.5"/>
<circle cx="697.00" cy="1482.90" r="10.85" fill="#ff0000" stroke="#111" stroke-width="1.5"/>
<circle cx="733.90" cy="1505.00" r="10.85" fill="#ff0000" stroke="#111" stroke-width="1.5"/>
<path d="M161.3,1127.1 L164.2,1127.3 L167.0,1127.6 L169.9,1128.0 L172.8,1128.5 L175.7,1129.1 L178.6,1129.7 L181.5,1130.4 L184.5,1131.2 L187.4,1131.9 L190.3,1132.8 L193.2,1133.6 L196.2,1134.4 L199.1,1135.3 L202.1,1136.2 L205.0,1137.0 L208.0,1137.9 L210.9,1138.7 L213.8,1139.5 L216.8,1140.2 L219.7,1140.9 L222.7,1141.5 L225.6,1142.1 L228.6,1142.6 L231.5,1143.0 L234.4,1143.3 L237.4,1143.5 L240.3,1143.6 L243.2,1143.6 L246.1,1143.5 L249.0,1143.2 L252.0,1142.8 L254.9,1142.3 L257.7,1141.6 L260.6,1140.9 L263.5,1140.1 L266.4,1139.3 L269.3,1138.4 L272.2,1137.5 L275.1,1136.7 L278.0,1135.8 L280.9,1135.1 L283.8,1134.6 L286.6,1134.4 L289.2,1134.8 L291.7,1135.7 L293.9,1137.2 L296.0,1139.1 L297.8,1141.3 L299.4,1143.8 L300.9,1146.5 L302.3,1149.4 L303.6,1152.3 L304.9,1155.3 L306.2,1158.2 L307.5,1161.0 L308.8,1163.8 L310.1,1166.5 L311.5,1169.1 L312.9,1171.8 L314.3,1174.3 L315.7,1176.9 L317.1,1179.4 L318.5,1182.0 L320.0,1184.5 L321.4,1187.1 L322.9,1189.6 L324.4,1192.2 L325.9,1194.8 L327.4,1197.3 L328.9,1199.9 L330.5,1202.5 L332.0,1205.0 L333.6,1207.6 L335.2,1210.1 L336.9,1212.6 L338.5,1215.2 L340.2,1217.7 L341.8,1220.2 L343.6,1222.6 L345.3,1225.1 L347.1,1227.5 L348.8,1229.9 L350.6,1232.3 L352.5,1234.7 L354.3,1237.1 L356.2,1239.4 L358.1,1241.7 L360.1,1243.9 L362.0,1246.2 L364.0,1248.4 L366.0,1250.6 L368.1,1252.8 L370.1,1254.9 L372.2,1257.0 L374.3,1259.1 L376.4,1261.2 L378.6,1263.3 L380.7,1265.3 L382.9,1267.3 L385.1,1269.3 L387.3,1271.3 L389.6,1273.3 L391.8,1275.2 L394.1,1277.2 L396.4,1279.1 L398.7,1281.0 L401.0,1282.9 L403.3,1284.8 L405.6,1286.7 L408.0,1288.5 L410.3,1290.4 L412.7,1292.2 L415.0,1294.1 L417.4,1295.9 L419.8,1297.7 L422.2,1299.5 L424.6,1301.3 L427.0,1303.1 L429.4,1304.9 L431.8,1306.7 L434.2,1308.5 L436.7,1310.3 L439.1,1312.0 L441.5,1313.8 L443.9,1315.6 L446.4,1317.4 L448.8,1319.2 L451.2,1320.9 L453.6,1322.7 L456.0,1324.5 L458.4,1326.3 L460.9,1328.1 L463.3,1329.9 L465.7,1331.7 L468.1,1333.5 L470.4,1335.3 L472.8,1337.1 L475.2,1338.9 L477.5,1340.8 L479.9,1342.6 L482.2,1344.5 L484.6,1346.3 L486.9,1348.2 L489.2,1350.1 L491.6,1352.0 L493.9,1353.8 L496.2,1355.7 L498.5,1357.6 L500.8,1359.5 L503.1,1361.4 L505.4,1363.3 L507.7,1365.2 L510.0,1367.1 L512.3,1369.0 L514.6,1370.9 L516.9,1372.8 L519.2,1374.7 L521.5,1376.5 L523.8,1378.4 L526.1,1380.3 L528.4,1382.2 L530.8,1384.1 L533.1,1385.9 L535.4,1387.8 L537.8,1389.6 L540.1,1391.5 L542.5,1393.3 L544.8,1395.2 L547.2,1397.0 L549.5,1398.8 L551.9,1400.7 L554.3,1402.5 L556.7,1404.3 L559.0,1406.1 L561.4,1407.9 L563.8,1409.7 L566.2,1411.5 L568.6,1413.3 L571.0,1415.1 L573.4,1416.9 L575.8,1418.7 L578.2,1420.5 L580.6,1422.3 L583.0,1424.1 L585.4,1425.8 L587.8,1427.6 L590.2,1429.4 L592.7,1431.2 L595.1,1433.0 L597.5,1434.7 L599.9,1436.5 L602.3,1438.3 L604.8,1440.0 L607.2,1441.8 L609.6,1443.6 L612.0,1445.3 L614.4,1447.1 L616.9,1448.9 L619.3,1450.6 L621.7,1452.4 L624.1,1454.2 L626.5,1455.9 L629.0,1457.7 L631.4,1459.5 L633.8,1461.2 L636.2,1463.0 L638.6,1464.8 L641.0,1466.6 L643.5,1468.3 L645.9,1470.1 L648.3,1471.9 L650.7,1473.7 L653.1,1475.5 L655.5,1477.2 L657.9,1479.0 L660.3,1480.8 L662.7,1482.6 L665.1,1484.4 L667.5,1486.2 L669.8,1488.0 L672.2,1489.8 L674.6,1491.6 L677.0,1493.4 L679.4,1495.2 L681.8,1497.0 L684.1,1498.8 L686.5,1500.6 L688.9,1502.4 L691.3,1504.2 L693.6,1506.0 L696.0,1507.9 L698.4,1509.7 L700.7,1511.5 L703.1,1513.3 L705.5,1515.2 L707.8,1517.0 L710.2,1518.8 L712.5,1520.7 L714.9,1522.5 L717.2,1524.4 L719.6,1526.2 L721.9,1528.0 L724.3,1529.9 L726.6,1531.8 L729.0,1533.6 L731.3,1535.5 L733.6,1537.3 L736.0,1539.2 L738.3,1541.1 L740.6,1542.9 L743.0,1544.8 L745.3,1546.7 L747.6,1548.6 L749.9,1550.5 L752.3,1552.4 L754.6,1554.3 L756.9,1556.1 L759.2,1558.0 L761.5,1560.0 L763.8,1561.9 L766.2,1563.8 L768.5,1565.7 L770.8,1567.6 L773.1,1569.5 L775.4,1571.4" fill="none" stroke="#000" stroke-width="7.5" stroke-linecap="round" stroke-linejoin="round"/>
<text font-size="33" text-anchor="middle" transform="translate(0,1658.00) scale(1,1.04) translate(0,-1658.00)" x="154.4" y="1658.0"><tspan class="one">1</tspan>0<tspan font-size="22" dy="-12">0</tspan></text>
<text font-size="33" text-anchor="middle" transform="translate(0,1658.00) scale(1,1.04) translate(0,-1658.00)" x="232.0" y="1658.0"><tspan class="one">1</tspan>0<tspan font-size="22" dy="-12" class="one">1</tspan></text>
<text font-size="33" text-anchor="middle" transform="translate(0,1658.00) scale(1,1.04) translate(0,-1658.00)" x="309.5" y="1658.0"><tspan class="one">1</tspan>0<tspan font-size="22" dy="-12">2</tspan></text>
<text font-size="33" text-anchor="middle" transform="translate(0,1658.00) scale(1,1.04) translate(0,-1658.00)" x="387.1" y="1658.0"><tspan class="one">1</tspan>0<tspan font-size="22" dy="-12">3</tspan></text>
<text font-size="33" text-anchor="middle" transform="translate(0,1658.00) scale(1,1.04) translate(0,-1658.00)" x="464.6" y="1658.0"><tspan class="one">1</tspan>0<tspan font-size="22" dy="-12">4</tspan></text>
<text font-size="33" text-anchor="middle" transform="translate(0,1658.00) scale(1,1.04) translate(0,-1658.00)" x="542.2" y="1658.0"><tspan class="one">1</tspan>0<tspan font-size="22" dy="-12">5</tspan></text>
<text font-size="33" text-anchor="middle" transform="translate(0,1658.00) scale(1,1.04) translate(0,-1658.00)" x="619.8" y="1658.0"><tspan class="one">1</tspan>0<tspan font-size="22" dy="-12">6</tspan></text>
<text font-size="33" text-anchor="middle" transform="translate(0,1658.00) scale(1,1.04) translate(0,-1658.00)" x="697.3" y="1658.0"><tspan class="one">1</tspan>0<tspan font-size="22" dy="-12">7</tspan></text>
<text font-size="33" text-anchor="middle" transform="translate(0,1658.00) scale(1,1.04) translate(0,-1658.00)" x="774.9" y="1658.0"><tspan class="one">1</tspan>0<tspan font-size="22" dy="-12">8</tspan></text>
<text font-size="33" text-anchor="end" transform="translate(0,1004.65) scale(1,1.04) translate(0,-1004.65)" x="138.4" y="1004.65"><tspan class="one">1</tspan>0</text>
<text font-size="33" text-anchor="end" transform="translate(0,1313.90) scale(1,1.04) translate(0,-1313.90)" x="138.4" y="1313.90"><tspan class="one">1</tspan></text>
<text font-size="33" text-anchor="end" transform="translate(0,1623.15) scale(1,1.04) translate(0,-1623.15)" x="138.4" y="1623.15">0.<tspan class="one">1</tspan></text>
<line x1="360.1" y1="1015.0" x2="438.0" y2="1015.0" stroke="#76fde0" stroke-width="7.5" stroke-linecap="round"/>
<path d="M360.1,1062.4 H383.9 M399.7,1062.4 H422.6" stroke="#000" stroke-width="7.5" stroke-linecap="round"/>
<line x1="359.8" y1="1104.1" x2="438.7" y2="1104.1" stroke="#111" stroke-width="1.3"/>
<circle cx="399.7" cy="1104.1" r="10.85" fill="#ff0000" stroke="#111" stroke-width="1.5"/>
<line x1="360.1" y1="1146.5" x2="438.0" y2="1146.5" stroke="#000" stroke-width="7.5" stroke-linecap="round"/>
<text font-size="33" x="457.7" y="1022.2"><tspan font-style="italic">S</tspan><tspan font-size="21" dy="10.3">ads</tspan><tspan dy="-10.3" dx="2">=<tspan class="one">1</tspan></tspan></text>
<text font-size="33" x="457.7" y="1073.9">IAST</text>
<text font-size="33" x="457.7" y="1115.6">CBMC</text>
<text font-size="33" x="457.7" y="1158.0">RAST</text>
<text font-size="33" x="171.0" y="1354.6" xml:space="preserve"> CBMC;</text>
<text font-size="33" x="171.0" y="1391.4">methanol/ethanol;</text>
<text font-size="33" x="171.0" y="1427.6"><tspan font-style="italic">f</tspan><tspan font-size="22" dy="11" class="one">1</tspan><tspan dy="-11">=</tspan><tspan font-style="italic">f</tspan><tspan font-size="22" dy="11">2</tspan><tspan dy="-11">; CuBTC; 298 K</tspan></text>
<text font-size="33" x="244.5" y="1540.6">moderation of</text>
<text font-size="33" x="244.5" y="1576.6">entropy effects</text>
<path d="M599.4,1502.6L473.1,1552.2M599.4,1502.6L533.3,1510.1M599.4,1502.6L545.7,1542.4" stroke="#000" stroke-width="1.8" fill="none"/>
<defs><path id="a1" d="M763,0 L583,0 L583,1147 C540,1106 483,1064 413,1023 C343,982 280,951 223,930 L223,1104 C323,1151 410,1208 485,1276 C560,1343 613,1409 644,1472 L763,1472 Z"/></defs>
<g fill="#000" stroke="#000">
<use href="#a1" transform=" translate(616.99,870.20) scale(0.01074,-0.01074)" stroke-width="14.0"/>
<use href="#a1" transform=" translate(616.99,1738.40) scale(0.01074,-0.01074)" stroke-width="14.0"/>
<use href="#a1" transform="translate(0,790.00) scale(1,1.04) translate(0,-790.00) translate(130.03,790.00) scale(0.01611,-0.01611)" stroke-width="9.3"/>
<use href="#a1" transform="translate(0,790.00) scale(1,1.04) translate(0,-790.00) translate(166.73,778.00) scale(0.01074,-0.01074)" stroke-width="14.0"/>
<use href="#a1" transform="translate(0,790.00) scale(1,1.04) translate(0,-790.00) translate(274.13,790.00) scale(0.01611,-0.01611)" stroke-width="9.3"/>
<use href="#a1" transform="translate(0,790.00) scale(1,1.04) translate(0,-790.00) translate(418.23,790.00) scale(0.01611,-0.01611)" stroke-width="9.3"/>
<use href="#a1" transform="translate(0,790.00) scale(1,1.04) translate(0,-790.00) translate(562.33,790.00) scale(0.01611,-0.01611)" stroke-width="9.3"/>
<use href="#a1" transform="translate(0,790.00) scale(1,1.04) translate(0,-790.00) translate(706.43,790.00) scale(0.01611,-0.01611)" stroke-width="9.3"/>
<use href="#a1" transform="translate(0,136.45) scale(1,1.04) translate(0,-136.45) translate(101.70,136.45) scale(0.01611,-0.01611)" stroke-width="9.3"/>
<use href="#a1" transform="translate(0,445.70) scale(1,1.04) translate(0,-445.70) translate(120.05,445.70) scale(0.01611,-0.01611)" stroke-width="9.3"/>
<use href="#a1" transform="translate(0,754.95) scale(1,1.04) translate(0,-754.95) translate(120.05,754.95) scale(0.01611,-0.01611)" stroke-width="9.3"/>
<use href="#a1" transform=" translate(717.86,150.80) scale(0.01611,-0.01611)" stroke-width="9.3"/>
<use href="#a1" transform=" translate(197.17,399.10) scale(0.01074,-0.01074)" stroke-width="14.0"/>
<use href="#a1" transform="translate(0,1658.00) scale(1,1.04) translate(0,-1658.00) translate(129.93,1658.00) scale(0.01611,-0.01611)" stroke-width="9.3"/>
<use href="#a1" transform="translate(0,1658.00) scale(1,1.04) translate(0,-1658.00) translate(207.53,1658.00) scale(0.01611,-0.01611)" stroke-width="9.3"/>
<use href="#a1" transform="translate(0,1658.00) scale(1,1.04) translate(0,-1658.00) translate(244.23,1646.00) scale(0.01074,-0.01074)" stroke-width="14.0"/>
<use href="#a1" transform="translate(0,1658.00) scale(1,1.04) translate(0,-1658.00) translate(285.03,1658.00) scale(0.01611,-0.01611)" stroke-width="9.3"/>
<use href="#a1" transform="translate(0,1658.00) scale(1,1.04) translate(0,-1658.00) translate(362.63,1658.00) scale(0.01611,-0.01611)" stroke-width="9.3"/>
<use href="#a1" transform="translate(0,1658.00) scale(1,1.04) translate(0,-1658.00) translate(440.13,1658.00) scale(0.01611,-0.01611)" stroke-width="9.3"/>
<use href="#a1" transform="translate(0,1658.00) scale(1,1.04) translate(0,-1658.00) translate(517.73,1658.00) scale(0.01611,-0.01611)" stroke-width="9.3"/>
<use href="#a1" transform="translate(0,1658.00) scale(1,1.04) translate(0,-1658.00) translate(595.33,1658.00) scale(0.01611,-0.01611)" stroke-width="9.3"/>
<use href="#a1" transform="translate(0,1658.00) scale(1,1.04) translate(0,-1658.00) translate(672.83,1658.00) scale(0.01611,-0.01611)" stroke-width="9.3"/>
<use href="#a1" transform="translate(0,1658.00) scale(1,1.04) translate(0,-1658.00) translate(750.43,1658.00) scale(0.01611,-0.01611)" stroke-width="9.3"/>
<use href="#a1" transform="translate(0,1004.65) scale(1,1.04) translate(0,-1004.65) translate(101.70,1004.65) scale(0.01611,-0.01611)" stroke-width="9.3"/>
<use href="#a1" transform="translate(0,1313.90) scale(1,1.04) translate(0,-1313.90) translate(120.05,1313.90) scale(0.01611,-0.01611)" stroke-width="9.3"/>
<use href="#a1" transform="translate(0,1623.15) scale(1,1.04) translate(0,-1623.15) translate(120.05,1623.15) scale(0.01611,-0.01611)" stroke-width="9.3"/>
<use href="#a1" transform=" translate(534.86,1022.20) scale(0.01611,-0.01611)" stroke-width="9.3"/>
<use href="#a1" transform=" translate(180.17,1438.60) scale(0.01074,-0.01074)" stroke-width="14.0"/>
</g>
</svg>
</body></html>
